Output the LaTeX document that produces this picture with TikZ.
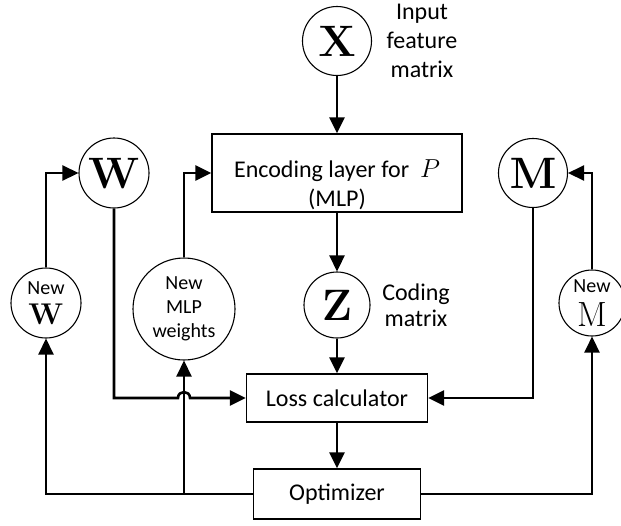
\RequirePackage{fix-cm}
\documentclass[tikz,border=0pt]{standalone}
\usepackage[no-math]{fontspec}
\setmainfont{Carlito}
\usetikzlibrary{arrows.meta,calc}
\begin{document}
\begin{tikzpicture}[x=1pt,y=-1pt,
  conn/.style={line width=2.6pt,-{Triangle[length=16pt,width=15pt]}},
  circ/.style={circle,draw,line width=1.1pt,inner sep=0pt,minimum size=#1},
  box/.style={draw,line width=1.3pt,inner sep=0pt,align=center,font=\fontsize{24}{29}\selectfont},
  lbl/.style={align=center,font=\fontsize{24}{29}\selectfont},
  big/.style={font=\fontsize{44}{44}\selectfont},
  small/.style={align=center,font=\fontsize{20}{24}\selectfont}]
\useasboundingbox (0,0) rectangle (621,525);
% nodes
\node[circ=69pt,big] (X) at (337,41) {$\mathbf{X}$};
\node[lbl] (xlbl) at (422,41) {Input\\feature\\matrix};
\node[box,minimum width=250pt,minimum height=78pt] (enc) at (337,173) {\rule{0pt}{42pt}Encoding layer for\ \ {\fontsize{26}{26}\selectfont$P$}\\(MLP)};
\node[circ=70pt,big] (W) at (114,173) {$\mathbf{W}$};
\node[circ=69pt,big] (M) at (533,173) {$\mathbf{M}$};
\node[circ=66pt,big] (Z) at (337,305) {$\mathbf{Z}$};
\node[lbl,font=\fontsize{24}{26}\selectfont] (zlbl) at (416,305) {Coding\\matrix};
\node[circ=70pt,small] (neww) at (46,303) {New\\[6pt]{\fontsize{30}{30}\selectfont$\mathbf{W}$}};
\node[circ=102pt,small] (newmlp) at (184,309) {New\\MLP\\weights};
\node[circ=66pt,small] (newm) at (592,303) {New\\[9pt]{\fontsize{35}{35}\selectfont$\mathrm{M}$}};
\node[box,minimum width=181pt,minimum height=48pt] (loss) at (337,398) {Loss calculator};
\node[box,minimum width=167pt,minimum height=50pt] (opt) at (337,494) {Optimizer};
\coordinate (h1) at (178,398);
\coordinate (h2) at (190,398);
% connectors
\draw[conn] (X) -- (enc);
\draw[conn] (enc) -- (Z);
\draw[conn] (Z) -- (loss);
\draw[conn] (loss) -- (opt);
\draw[conn] (neww) |- (W);
\draw[conn] (newmlp) |- (enc);
\draw[conn] (newm) |- (M);
\draw[conn] (W) |- (h1) .. controls ($(h1)+(0,-8)$) and ($(h2)+(0,-8)$) .. (h2) -- (loss);
\draw[conn] (M) |- (loss);
\draw[conn] (opt) -| (neww);
\draw[conn] (opt) -| (newmlp);
\draw[conn] (opt) -| (newm);
\end{tikzpicture}
\end{document}
